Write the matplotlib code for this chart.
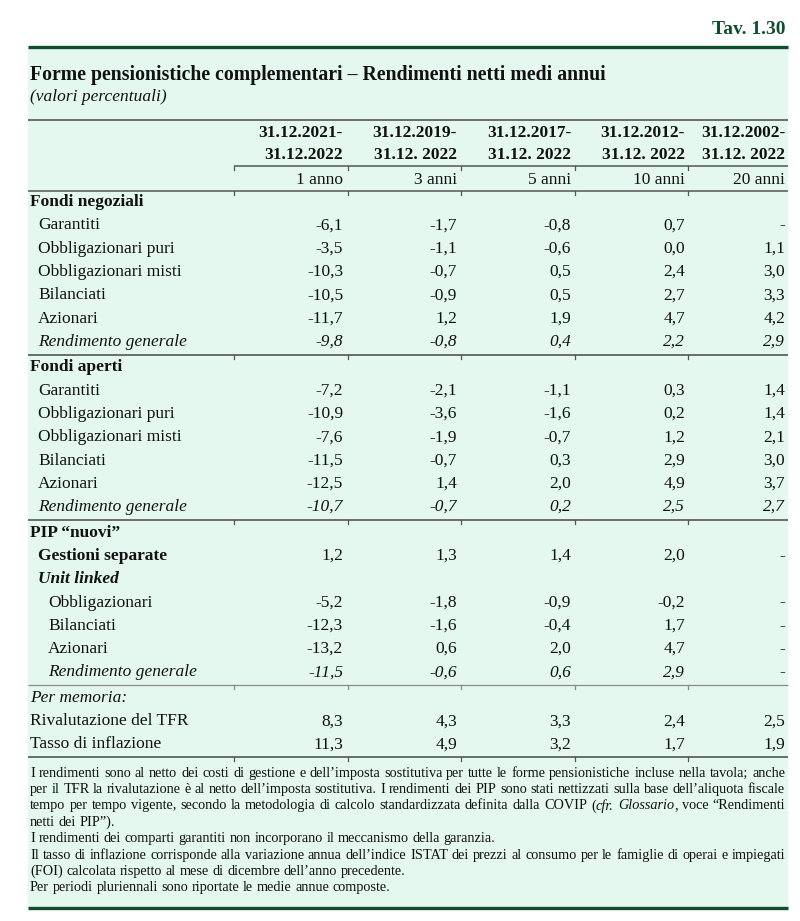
import matplotlib
matplotlib.use('Agg')
import matplotlib.pyplot as plt
import numpy as np

plt.rcParams['font.family'] = ['Liberation Serif', 'DejaVu Serif']

# ---------------- data ----------------
table_number = "Tav. 1.30"
title = "Forme pensionistiche complementari – Rendimenti netti medi annui"
subtitle = "(valori percentuali)"
period_start = ["31.12.2021-", "31.12.2019-", "31.12.2017-", "31.12.2012-", "31.12.2002-"]
period_end = ["31.12.2022", "31.12. 2022", "31.12. 2022", "31.12. 2022", "31.12. 2022"]
horizons = ["1 anno", "3 anni", "5 anni", "10 anni", "20 anni"]

row_labels = [
    "Fondi negoziali", "Garantiti", "Obbligazionari puri", "Obbligazionari misti",
    "Bilanciati", "Azionari", "Rendimento generale",
    "Fondi aperti", "Garantiti", "Obbligazionari puri", "Obbligazionari misti",
    "Bilanciati", "Azionari", "Rendimento generale",
    "PIP “nuovi”", "Gestioni separate", "Unit linked", "Obbligazionari",
    "Bilanciati", "Azionari", "Rendimento generale",
    "Per memoria:", "Rivalutazione del TFR", "Tasso di inflazione",
]
row_kinds = [
    "section", "item", "item", "item", "item", "item", "total",
    "section", "item", "item", "item", "item", "item", "total",
    "section", "gs", "ul", "subitem", "subitem", "subitem", "subtotal",
    "memo", "memoitem", "memoitem",
]
NA = np.nan  # shown as "-"
ret_1y = [None, -6.1, -3.5, -10.3, -10.5, -11.7, -9.8,
          None, -7.2, -10.9, -7.6, -11.5, -12.5, -10.7,
          None, 1.2, None, -5.2, -12.3, -13.2, -11.5,
          None, 8.3, 11.3]
ret_3y = [None, -1.7, -1.1, -0.7, -0.9, 1.2, -0.8,
          None, -2.1, -3.6, -1.9, -0.7, 1.4, -0.7,
          None, 1.3, None, -1.8, -1.6, 0.6, -0.6,
          None, 4.3, 4.9]
ret_5y = [None, -0.8, -0.6, 0.5, 0.5, 1.9, 0.4,
          None, -1.1, -1.6, -0.7, 0.3, 2.0, 0.2,
          None, 1.4, None, -0.9, -0.4, 2.0, 0.6,
          None, 3.3, 3.2]
ret_10y = [None, 0.7, 0.0, 2.4, 2.7, 4.7, 2.2,
           None, 0.3, 0.2, 1.2, 2.9, 4.9, 2.5,
           None, 2.0, None, -0.2, 1.7, 4.7, 2.9,
           None, 2.4, 1.7]
ret_20y = [None, NA, 1.1, 3.0, 3.3, 4.2, 2.9,
           None, 1.4, 1.4, 2.1, 3.0, 3.7, 2.7,
           None, NA, None, NA, NA, NA, NA,
           None, 2.5, 1.9]

notes = [
    ([("I rendimenti sono al netto dei costi di gestione e dell’imposta sostitutiva per tutte le forme pensionistiche incluse nella tavola; anche", "normal")], True),
    ([("per il TFR la rivalutazione è al netto dell’imposta sostitutiva. I rendimenti dei PIP sono stati nettizzati sulla base dell’aliquota fiscale", "normal")], True),
    ([("tempo per tempo vigente, secondo la metodologia di calcolo standardizzata definita dalla COVIP (", "normal"),
      ("cfr. Glossario", "italic"), (", voce “Rendimenti", "normal")], True),
    ([("netti dei PIP”).", "normal")], False),
    ([("I rendimenti dei comparti garantiti non incorporano il meccanismo della garanzia.", "normal")], False),
    ([("Il tasso di inflazione corrisponde alla variazione annua dell’indice ISTAT dei prezzi al consumo per le famiglie di operai e impiegati", "normal")], True),
    ([("(FOI) calcolata rispetto al mese di dicembre dell’anno precedente.", "normal")], False),
    ([("Per periodi pluriennali sono riportate le medie annue composte.", "normal")], False),
]

# ---------------- styling / layout ----------------
W, H = 800, 921
GREEN = "#0f4f2c"
BG = "#e4f8f0"
RULE = "#555555"
TXT = "#111111"
BOX_L, BOX_R = 28, 788
COL_EDGES = [234, 348, 461, 575, 688]
COL_RIGHT = [343, 457, 571, 685, 785]
FS = 12.5

fig = plt.figure(figsize=(W / 100, H / 100), dpi=100)
ax = fig.add_axes([0, 0, 1, 1])
ax.set_xlim(0, W)
ax.set_ylim(H, 0)
ax.axis('off')
renderer = fig.canvas.get_renderer()

def width_of(t):
    return t.get_window_extent(renderer).width

def hrule(y, x0=BOX_L, x1=BOX_R, color=RULE, lw=1.1, ticks=True):
    ax.plot([x0, x1], [y, y], color=color, lw=lw, solid_capstyle='butt', zorder=3)
    if ticks:
        for xe in COL_EDGES:
            if x0 <= xe <= x1:
                ax.plot([xe, xe], [y, y + 4], color=color, lw=0.9, zorder=3)

# background box
ax.add_patch(plt.Rectangle((BOX_L, 47), BOX_R - BOX_L, 908 - 47, facecolor=BG,
                           edgecolor='none', zorder=0))
ax.plot([BOX_L, BOX_R], [47, 47], color=GREEN, lw=2.4, solid_capstyle='butt', zorder=4)
ax.plot([BOX_L, BOX_R], [908, 908], color=GREEN, lw=2.4, solid_capstyle='butt', zorder=4)

ax.text(785, 30, table_number, ha='right', va='center', fontsize=14, weight='bold', color=GREEN)

# title fitted to width
t = ax.text(30, 75, title, ha='left', va='center', fontsize=14, weight='bold', color=TXT)
t.set_fontsize(14 * 575 / width_of(t))
ax.text(30, 97, subtitle, ha='left', va='center', fontsize=FS, style='italic', color=TXT)

# header
hrule(120, ticks=False, lw=1.2)
for j in range(5):
    ax.text(COL_RIGHT[j], 133, period_start[j], ha='right', va='center', fontsize=FS,
            weight='bold', color=TXT)
    ax.text(COL_RIGHT[j], 155, period_end[j], ha='right', va='center', fontsize=FS,
            weight='bold', color=TXT)
    ax.text(COL_RIGHT[j], 180, horizons[j], ha='right', va='center', fontsize=FS, color=TXT)
hrule(166, x0=COL_EDGES[0])
hrule(191)

# rows
styles = {
    "section": (30, 'bold', 'normal', 'normal'),
    "item": (38, 'normal', 'normal', 'normal'),
    "total": (38, 'normal', 'italic', 'italic'),
    "gs": (38, 'bold', 'normal', 'normal'),
    "ul": (38, 'bold', 'italic', 'normal'),
    "subitem": (48, 'normal', 'normal', 'normal'),
    "subtotal": (48, 'normal', 'italic', 'italic'),
    "memo": (30, 'normal', 'italic', 'normal'),
    "memoitem": (30, 'normal', 'normal', 'normal'),
}
series = [ret_1y, ret_3y, ret_5y, ret_10y, ret_20y]
section_breaks = {6: 'dark', 13: 'dark', 20: 'light', 23: 'dark'}
y = 202
for i, lab in enumerate(row_labels):
    x, wt, st, vst = styles[row_kinds[i]]
    ax.text(x, y, lab, ha='left', va='center', fontsize=FS, weight=wt, style=st, color=TXT)
    for j, s in enumerate(series):
        v = s[i]
        if v is None:
            continue
        txt = '-' if np.isnan(v) else f"{v:.1f}".replace('.', ',')
        ax.text(COL_RIGHT[j], y, txt, ha='right', va='center', fontsize=FS,
                style=vst, color=TXT)
    if i in section_breaks:
        yr = y + 13
        hrule(yr, color=RULE if section_breaks[i] == 'dark' else '#8a8a8a',
              lw=1.2 if section_breaks[i] == 'dark' else 0.9)
        y = yr + 12.5
    else:
        y += 23.3

# notes with justification
NFS = 10.0
def split_words(pieces):
    words = [[]]
    for txt, st in pieces:
        parts = txt.split(' ')
        for k, p in enumerate(parts):
            if k > 0:
                words.append([])
            if p:
                words[-1].append((p, st))
    return [w for w in words if w]

def measure_words(words, size):
    ws = []
    for w in words:
        tot = 0
        for seg, st in w:
            tt = ax.text(0, 0, seg, fontsize=size, style=st)
            tot += width_of(tt)
            tt.remove()
        ws.append(tot)
    return ws

def space_width(size):
    a = ax.text(0, 0, "x x", fontsize=size); b = ax.text(0, 0, "xx", fontsize=size)
    w = width_of(a) - width_of(b)
    a.remove(); b.remove()
    return w

# fit the notes font size to the first justified line
w0 = split_words(notes[0][0])
nat = sum(measure_words(w0, NFS)) + space_width(NFS) * (len(w0) - 1)
NFS = NFS * 752 / nat
sp = space_width(NFS)
NX0, NX1 = 30, 785
ny = 773
for pieces, just in notes:
    words = split_words(pieces)
    ws = measure_words(words, NFS)
    gap = (NX1 - NX0 - sum(ws)) / (len(words) - 1) if (just and len(words) > 1) else sp
    x = NX0
    for w, wd in zip(words, ws):
        xx = x
        for seg, st in w:
            tt = ax.text(xx, ny, seg, ha='left', va='center', fontsize=NFS, style=st, color=TXT)
            xx += width_of(tt)
        x += wd + gap
    ny += 16.4

fig.savefig('out.png', dpi=100, facecolor='white')
